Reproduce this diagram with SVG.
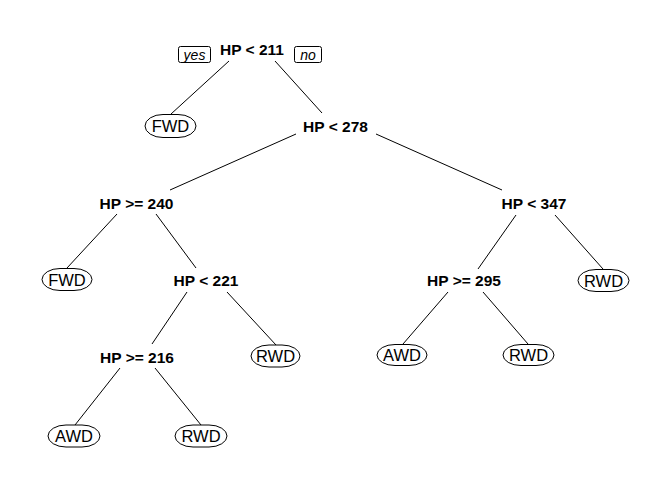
<svg xmlns="http://www.w3.org/2000/svg" width="672" height="480" viewBox="0 0 672 480">
<style>
.split{font-family:"Liberation Sans",Arial,sans-serif;font-weight:bold;font-size:15.5px;text-anchor:middle;fill:#000}
.leaf text{font-family:"Liberation Sans",Arial,sans-serif;font-size:16.5px;text-anchor:middle;fill:#000}
.leaf rect{fill:#fff;stroke:#000;stroke-width:1}
.lab text{font-family:"Liberation Sans",Arial,sans-serif;font-style:italic;font-size:14px;text-anchor:middle;fill:#000}
.lab rect{fill:#fff;stroke:#000;stroke-width:1}
#edges line{stroke:#000;stroke-width:1}
</style>
<rect width="672" height="480" fill="#fff"/>
<g id="edges">
<line x1="229" y1="61" x2="171" y2="114"/>
<line x1="275" y1="61" x2="322" y2="113"/>
<line x1="296" y1="134" x2="170" y2="190"/>
<line x1="376" y1="134" x2="502" y2="190"/>
<line x1="117" y1="214" x2="67" y2="268"/>
<line x1="156" y1="214" x2="196" y2="268"/>
<line x1="187" y1="292" x2="152" y2="344"/>
<line x1="227" y1="292" x2="276" y2="345"/>
<line x1="120" y1="368" x2="75" y2="425"/>
<line x1="155" y1="368" x2="201" y2="425"/>
<line x1="516" y1="215" x2="478" y2="269"/>
<line x1="555" y1="215" x2="603" y2="269"/>
<line x1="448" y1="292" x2="403" y2="344"/>
<line x1="483" y1="292" x2="528" y2="344"/>
</g>
<g id="labels" class="lab">
<rect x="178.5" y="46.5" width="32" height="16" rx="2"/>
<text x="194.5" y="59.5">yes</text>
<rect x="294.5" y="46.5" width="27" height="16" rx="2"/>
<text x="308" y="59.5">no</text>
</g>
<g id="n1"><text class="split" x="252" y="55">HP &lt; 211</text></g>
<g id="n2" class="leaf"><rect x="145" y="114.5" width="51" height="23" rx="18" ry="11.5"/><text x="170.5" y="132">FWD</text></g>
<g id="n3"><text class="split" x="335.5" y="132">HP &lt; 278</text></g>
<g id="n4"><text class="split" x="136.5" y="209">HP &gt;= 240</text></g>
<g id="n5" class="leaf"><rect x="42" y="268.5" width="50" height="22" rx="18" ry="11"/><text x="67" y="285.5">FWD</text></g>
<g id="n6"><text class="split" x="206" y="286">HP &lt; 221</text></g>
<g id="n7"><text class="split" x="137" y="363">HP &gt;= 216</text></g>
<g id="n8" class="leaf"><rect x="251" y="345" width="49" height="22" rx="18" ry="11"/><text x="275.5" y="362">RWD</text></g>
<g id="n9" class="leaf"><rect x="48" y="425" width="52" height="22" rx="18" ry="11"/><text x="74" y="442">AWD</text></g>
<g id="n10" class="leaf"><rect x="175" y="425" width="52" height="22" rx="18" ry="11"/><text x="201" y="442">RWD</text></g>
<g id="n11"><text class="split" x="534" y="209">HP &lt; 347</text></g>
<g id="n12"><text class="split" x="464" y="286">HP &gt;= 295</text></g>
<g id="n13" class="leaf"><rect x="578" y="269.5" width="51" height="22" rx="18" ry="11"/><text x="603.5" y="286.5">RWD</text></g>
<g id="n14" class="leaf"><rect x="377" y="344.5" width="50" height="21" rx="18" ry="10.5"/><text x="402" y="361">AWD</text></g>
<g id="n15" class="leaf"><rect x="503" y="344.5" width="51" height="21" rx="18" ry="10.5"/><text x="528.5" y="361">RWD</text></g>
</svg>
